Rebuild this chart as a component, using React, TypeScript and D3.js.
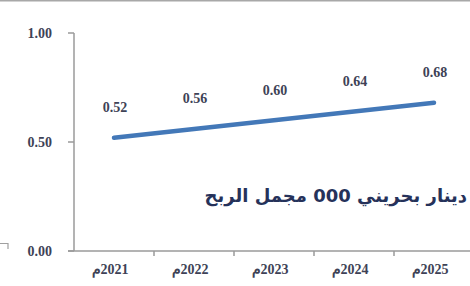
import React from 'react';
import * as d3 from 'd3';

const width = 470;
const height = 286;
const margin = { top: 33, right: -4, bottom: 35, left: 74 };

const years = ['2021م', '2022م', '2023م', '2024م', '2025م'];
const profit = [0.52, 0.56, 0.6, 0.64, 0.68];
const yTicks = [0, 0.5, 1];
const title = 'دينار بحريني 000 مجمل الربح';

const numFont = '"Liberation Serif", "Times New Roman", serif';
const labelColor = '#3e4256';
const axisColor = '#9a9a9a';

const App = () => {
    const xScale = d3.scaleBand().domain(years).range([margin.left, width - margin.right]);
    const yScale = d3.scaleLinear().domain([0, 1]).range([height - margin.bottom, margin.top]);

    const points = years.map((y, i) => ({ x: xScale(y) + xScale.bandwidth() / 2, y: yScale(profit[i]), v: profit[i] }));
    const line = d3.line().x(d => d.x).y(d => d.y);

    const y0 = yScale(0);
    // boundaries between categories, used for the x tick marks
    const bounds = years.slice(1).map(y => xScale(y));

    return (
        <svg width={width} height={height} style={{ position: 'absolute', left: 0, top: 0, background: '#fff' }}>
            <line x1={0} x2={width} y1={0.5} y2={0.5} stroke="#a8a8a8" strokeWidth={2} />
            <path d="M0,243.5 H8 V249" fill="none" stroke="#a0a0a0" strokeWidth={1.2} />

            {/* y axis */}
            <line x1={margin.left} x2={margin.left} y1={yScale(1)} y2={y0} stroke={axisColor} strokeWidth={1.5} />
            {yTicks.map(t => (
                <g key={t}>
                    <line x1={margin.left - 6} x2={margin.left} y1={yScale(t)} y2={yScale(t)} stroke={axisColor} strokeWidth={1.5} />
                    <text x={52} y={yScale(t) + 4.5} textAnchor="end" fontFamily={numFont} fontWeight="bold" fontSize={14} fill={labelColor}>
                        {t.toFixed(2)}
                    </text>
                </g>
            ))}

            {/* x axis */}
            <line x1={margin.left - 6} x2={width} y1={y0} y2={y0} stroke={axisColor} strokeWidth={1.5} />
            {bounds.map((b, i) => (
                <line key={i} x1={b} x2={b} y1={y0} y2={y0 + 5} stroke={axisColor} strokeWidth={1.5} />
            ))}
            {years.map(y => (
                <text key={y} x={xScale(y) + xScale.bandwidth() / 2 - 4} y={274} direction="rtl" textAnchor="middle"
                    fontFamily={numFont} fontWeight="bold" fontSize={14} fill={labelColor}>
                    {y}
                </text>
            ))}

            <path d={line(points)} fill="none" stroke="#4378b8" strokeWidth={4.5} strokeLinecap="round" />

            {points.map((d, i) => (
                <text key={i} x={d.x + 1} y={d.y - 25.5} textAnchor="middle" fontFamily={numFont} fontWeight="bold" fontSize={14} fill={labelColor}>
                    {d.v.toFixed(2)}
                </text>
            ))}

            <text x={467} y={202} textAnchor="end" fontFamily='"DejaVu Sans", sans-serif' fontWeight="bold" fontSize={18} fill="#26325a">
                {title}
            </text>
        </svg>
    );
};

export default App;
